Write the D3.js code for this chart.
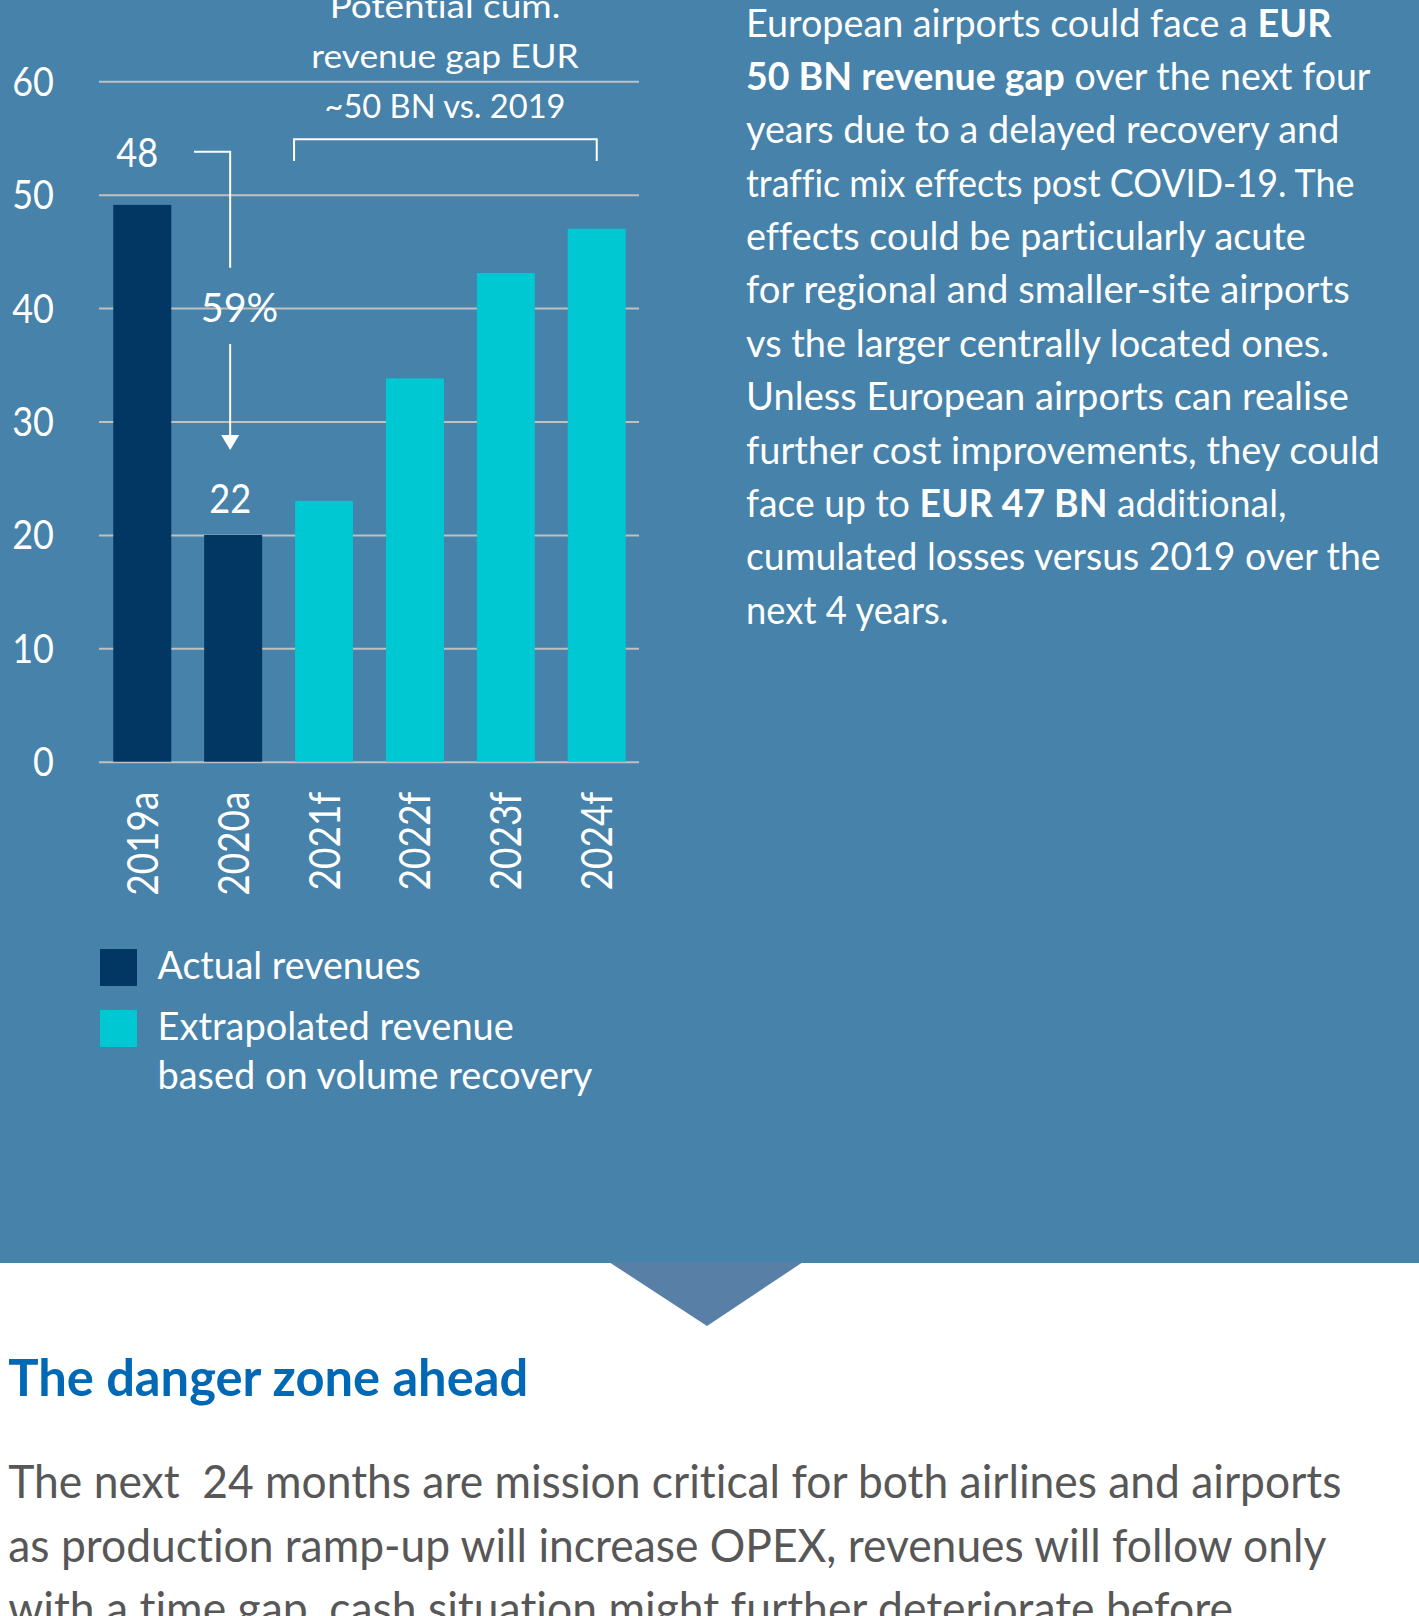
<!DOCTYPE html>
<html><head><meta charset="utf-8">
<script src="https://cdn.jsdelivr.net/npm/d3@7"></script>
<style>
html,body{margin:0;padding:0;background:#ffffff;}
svg{display:block;}
text{font-family:Lato,"Open Sans","Noto Sans",sans-serif;font-variant-ligatures:none;}
</style>
</head><body>
<svg id="c" width="1419" height="1616"></svg>
<script>
// ---------- data ----------
const categories = ["2019a", "2020a", "2021f", "2022f", "2023f", "2024f"];
const revenues   = [49.1, 20.0, 23.0, 33.8, 43.1, 47.0];
const seriesOf   = ["actual", "actual", "extrapolated", "extrapolated", "extrapolated", "extrapolated"];
const yTicks     = [0, 10, 20, 30, 40, 50, 60];
const legendItems = [
  {key: "actual", lines: ["Actual revenues"]},
  {key: "extrapolated", lines: ["Extrapolated revenue", "based on volume recovery"]}
];
const valueLabels = [{cat: "2019a", text: "48"}, {cat: "2020a", text: "22"}];
const dropLabel = "59%";
const gapLabel = ["Potential cum.", "revenue gap EUR", "~50 BN vs. 2019"];
const paragraph = [
  [["European airports could face a ", 0], ["EUR", 1]],
  [["50 BN revenue gap", 1], [" over the next four", 0]],
  [["years due to a delayed recovery and", 0]],
  [["traffic mix effects post COVID-19. The", 0]],
  [["effects could be particularly acute", 0]],
  [["for regional and smaller-site airports", 0]],
  [["vs the larger centrally located ones.", 0]],
  [["Unless European airports can realise", 0]],
  [["further cost improvements, they could", 0]],
  [["face up to ", 0], ["EUR 47 BN", 1], [" additional,", 0]],
  [["cumulated losses versus 2019 over the", 0]],
  [["next 4 years.", 0]]
];
const heading = "The danger zone ahead";
const bodyLines = [
  "The next  24 months are mission critical for both airlines and airports",
  "as production ramp-up will increase OPEX, revenues will follow only",
  "with a time gap, cash situation might further deteriorate before"
];

// ---------- layout / style ----------
const W = 1419, H = 1616;
const C = {band: "#4682aa", dark: "#023763", cyan: "#00c8d3", grid: "#c0c0c0",
           white: "#ffffff", heading: "#0068b4", body: "#575757", notch: "#5880a6"};
const paraWidths = [585.5, 624.6, 593.5, 608.5, 560, 604, 583.5, 603, 634, 540.5, 634.7, 202.5];
const bodyWidths = [1333.4, 1318.7, 1225];
const gapWidths = [230.8, 267.6, 241];
const legendWidths = [[263.3], [356.5, 435]];

const svg = d3.select("#c");

function placeText(parent, x, y, segs, o) {
  const g = parent.append("g").attr("transform", `translate(${x},${y})`);
  const t = g.append("text")
    .attr("text-anchor", o.anchor || "start")
    .attr("font-size", o.size)
    .attr("fill", o.fill)
    .attr("font-weight", o.weight || 400)
    .style("white-space", "pre");
  const list = typeof segs === "string" ? [[segs, 0]] : segs;
  list.forEach(([s, b]) => t.append("tspan").attr("font-weight", b ? 700 : null).text(s));
  const n = t.node().getComputedTextLength();
  const k = o.width ? o.width / n : (o.k || 0.9);
  t.attr("transform", `scale(${k},1)`);
  return t;
}

// background band + notch
svg.append("rect").attr("x", 0).attr("y", 0).attr("width", W).attr("height", 1263).attr("fill", C.band);
svg.append("path").attr("d", "M609,1262 L803,1262 L707,1326 Z").attr("fill", C.notch);

// ---------- chart ----------
const x = d3.scaleBand().domain(categories).range([99, 640]).paddingInner(0.362).paddingOuter(0.157);
const y = d3.scaleLinear().domain([0, 60]).range([761.7, 81.3]);
const color = d3.scaleOrdinal().domain(["actual", "extrapolated"]).range([C.dark, C.cyan]);

// gridlines
const grid = svg.append("g").attr("transform", "translate(99,0)")
  .call(d3.axisLeft(y).tickValues(yTicks).tickSize(-540).tickFormat(""));
grid.select(".domain").remove();
grid.selectAll(".tick line").attr("stroke", C.grid).attr("stroke-width", 2);

// y tick labels
const yLab = svg.append("g").attr("transform", "translate(54,0)")
  .call(d3.axisLeft(y).tickValues(yTicks).tickSize(0).tickPadding(0));
yLab.select(".domain").remove();
yLab.selectAll(".tick text")
  .attr("fill", C.white).attr("font-size", 40).attr("font-family", null)
  .attr("x", 0).attr("dy", "0.35em").attr("transform", "scale(0.9,1)");

// bars
svg.append("g").selectAll("rect").data(categories).join("rect")
  .attr("x", d => x(d))
  .attr("y", (d, i) => y(revenues[i]))
  .attr("width", x.bandwidth())
  .attr("height", (d, i) => y(0) - y(revenues[i]))
  .attr("fill", (d, i) => color(seriesOf[i]));

// x labels (rotated)
const xAx = svg.append("g").attr("transform", `translate(0,${y(0)})`)
  .call(d3.axisBottom(x).tickSize(0).tickPadding(0));
xAx.select(".domain").remove();
xAx.selectAll(".tick text")
  .attr("fill", C.white).attr("font-size", 42).attr("font-family", null)
  .attr("text-anchor", "end").attr("x", 0).attr("y", 0).attr("dy", "0.37em")
  .attr("transform", "rotate(-90) translate(-30,0) scale(0.88,1)");

// value annotations
const cx = c => x(c) + x.bandwidth() / 2;
placeText(svg, cx("2019a") - 5, 166.7, valueLabels[0].text, {size: 40, fill: C.white, anchor: "middle", width: 42});
placeText(svg, cx("2020a") - 3, 513.3, valueLabels[1].text, {size: 40, fill: C.white, anchor: "middle", width: 42});

// drop arrow
const ax = cx("2020a") - 3;
const ann = svg.append("g").attr("stroke", C.white).attr("stroke-width", 2).attr("fill", "none");
ann.append("path").attr("d", `M194,151.7 H${ax} V267.7`);
ann.append("path").attr("d", `M${ax},344 V437`);
svg.append("path").attr("d", `M${ax - 9},435 L${ax + 9},435 L${ax},450 Z`).attr("fill", C.white);
placeText(svg, 239.5, 322.3, dropLabel, {size: 40, fill: C.white, anchor: "middle", width: 77.6});

// bracket
const bx0 = x("2021f") - 1, bx1 = cx("2024f");
ann.append("path").attr("d", `M${bx0},161 V139.3 H${bx1} V161`);
gapLabel.forEach((s, i) => placeText(svg, 445, 18.3 + i * 50, s, {size: 33, fill: C.white, anchor: "middle", width: gapWidths[i]}));

// legend
legendItems.forEach((it, i) => {
  const y0 = 949 + i * 61;
  svg.append("rect").attr("x", 100).attr("y", y0).attr("width", 37).attr("height", 37).attr("fill", color(it.key));
  it.lines.forEach((s, j) => placeText(svg, 157.5, y0 + 30 + j * 49, s, {size: 38, fill: C.white, width: legendWidths[i][j]}));
});

// right paragraph
paragraph.forEach((segs, i) => placeText(svg, 746, 36.7 + i * 53.35, segs, {size: 38, fill: C.white, width: paraWidths[i]}));

// heading + body
placeText(svg, 8.3, 1396, heading, {size: 51, fill: C.heading, weight: 700, width: 520});
bodyLines.forEach((s, i) => placeText(svg, 8.3, 1498.3 + i * 63.4, s, {size: 46.5, fill: C.body, width: bodyWidths[i]}));
</script>
</body></html>
